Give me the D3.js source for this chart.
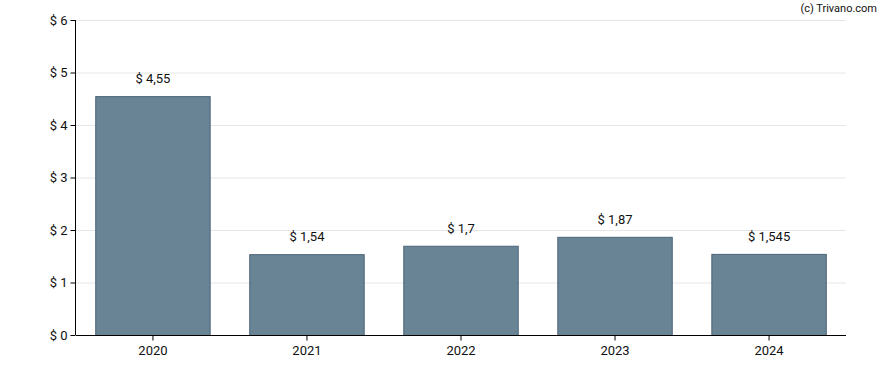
<!DOCTYPE html>
<html lang="en">
<head>
    <meta charset="UTF-8">
    <title>Chart</title>
    <script type="text/javascript" src="https://cdnjs.cloudflare.com/ajax/libs/d3/7.8.5/d3.min.js"></script>
    <style>
        body { margin: 0; background: #fff; }
        svg text { font-family: Roboto, "Liberation Sans", sans-serif; fill: #111; }
    </style>
</head>
<body>
<div id="chart"></div>
<script>
    var years = ["2020", "2021", "2022", "2023", "2024"];
    var values = [4.55, 1.54, 1.7, 1.87, 1.545];
    var labels = ["$ 4,55", "$ 1,54", "$ 1,7", "$ 1,87", "$ 1,545"];
    var yTicks = [0, 1, 2, 3, 4, 5, 6];

    var width = 888, height = 370,
        margin = {top: 20, right: 42, bottom: 35, left: 76};

    var svg = d3.select("#chart").append("svg")
        .attr("width", width)
        .attr("height", height);

    var x = d3.scaleBand()
        .domain(years)
        .range([margin.left, width - margin.right])
        .paddingInner(0.257)
        .paddingOuter(0.128);

    var y = d3.scaleLinear()
        .domain([0, 6])
        .range([height - margin.bottom, margin.top]);

    // grid
    svg.append("g")
        .selectAll("line")
        .data(yTicks.filter(function(d) { return d > 0; }))
        .enter().append("line")
        .attr("x1", margin.left)
        .attr("x2", width - margin.right)
        .attr("y1", function(d) { return y(d) + 0.5; })
        .attr("y2", function(d) { return y(d) + 0.5; })
        .attr("stroke", "#e6e6e6")
        .attr("stroke-width", 1);

    // bars
    svg.append("g")
        .selectAll("rect")
        .data(values)
        .enter().append("rect")
        .attr("x", function(d, i) { return x(years[i]); })
        .attr("y", function(d) { return y(d) + 0.5; })
        .attr("width", x.bandwidth())
        .attr("height", function(d) { return y(0) - y(d); })
        .attr("fill", "rgb(92,121,140)")
        .attr("fill-opacity", 0.92)
        .attr("stroke", "#4b6479")
        .attr("stroke-width", 1);

    // value labels
    svg.append("g")
        .selectAll("text")
        .data(values)
        .enter().append("text")
        .attr("x", function(d, i) { return x(years[i]) + x.bandwidth() / 2; })
        .attr("y", function(d) { return y(d) - 13; })
        .attr("text-anchor", "middle")
        .style("font-size", "13px")
        .text(function(d, i) { return labels[i]; });

    // axes
    var yAxis = d3.axisLeft(y)
        .tickValues(yTicks)
        .tickSize(5)
        .tickPadding(3)
        .tickFormat(function(d) { return "$ " + d; });

    var gy = svg.append("g")
        .attr("transform", "translate(" + (margin.left - 0.5) + ",0)")
        .call(yAxis);
    gy.select(".domain").attr("d", "M0," + margin.top + "V" + y(0)).attr("stroke", "#000");
    gy.selectAll("text").style("font-size", "13px").attr("fill", "#111");

    var xAxis = d3.axisBottom(x).tickSize(5).tickPadding(5);
    var gx = svg.append("g")
        .attr("transform", "translate(0," + (y(0) + 0.5) + ")")
        .call(xAxis);
    gx.select(".domain").attr("d", "M" + margin.left + ",0H" + (width - margin.right)).attr("stroke", "#000");
    gx.selectAll("text").style("font-size", "13px").attr("fill", "#111");

    svg.append("text")
        .attr("x", 877)
        .attr("y", 12)
        .attr("text-anchor", "end")
        .style("font-size", "11px")
        .text("(c) Trivano.com");
</script>
</body>
</html>
